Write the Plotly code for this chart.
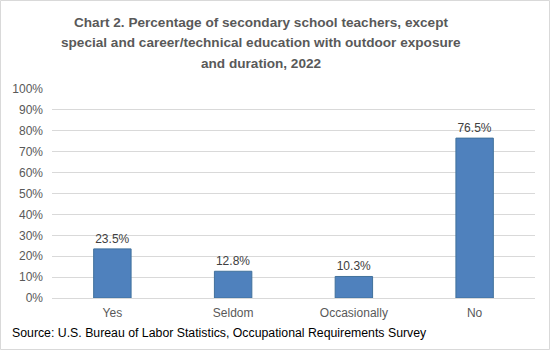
import plotly.graph_objects as go

categories = ["Yes", "Seldom", "Occasionally", "No"]
values = [23.5, 12.8, 10.3, 76.5]
labels = ["23.5%", "12.8%", "10.3%", "76.5%"]
tick_vals = [0, 10, 20, 30, 40, 50, 60, 70, 80, 90, 100]
tick_text = [f"{v}%" for v in tick_vals]
title_lines = [
    "Chart 2. Percentage of secondary school teachers, except",
    "special and career/technical education with outdoor exposure",
    "and duration, 2022",
]
source_text = "Source: U.S. Bureau of Labor Statistics, Occupational Requirements Survey"

W, H = 551, 351
L, R, T, B = 52, 16, 89, 53
FONT = "Liberation Sans"
pw, ph = W - L - R, H - T - B


def px_x(x):
    return (x - L) / pw


def px_y(y):
    return (H - B - y) / ph


fig = go.Figure(go.Bar(
    x=categories, y=values, text=labels, textposition="outside",
    textfont=dict(family=FONT, size=12, color="#404040"),
    marker=dict(color="#4F81BD", line=dict(color="#41719C", width=1)),
    cliponaxis=False,
))

fig.update_layout(
    width=W, height=H,
    margin=dict(l=L, r=R, t=T, b=B),
    paper_bgcolor="white", plot_bgcolor="white",
    bargap=0.69,
    showlegend=False,
    xaxis=dict(
        showgrid=False, showline=False, ticks="", ticklabelstandoff=6,
        tickfont=dict(family=FONT, size=12, color="#595959"),
    ),
    yaxis=dict(
        range=[0, 100], tickvals=tick_vals, ticktext=tick_text,
        showgrid=True, gridcolor="#D9D9D9", gridwidth=1,
        zeroline=True, zerolinecolor="#D9D9D9", zerolinewidth=1,
        showline=False, ticks="", ticklabelstandoff=8,
        tickfont=dict(family=FONT, size=12, color="#595959"),
    ),
)

for i, line in enumerate(title_lines):
    fig.add_annotation(
        text=f"<b>{line}</b>", xref="paper", yref="paper",
        x=px_x(261), y=px_y(22 + 21 * i),
        xanchor="center", yanchor="middle", showarrow=False,
        font=dict(family=FONT, size=13.6, color="#595959"),
    )

fig.add_annotation(
    text=source_text,
    xref="paper", yref="paper",
    x=px_x(10), y=px_y(333),
    xanchor="left", yanchor="middle", showarrow=False,
    font=dict(family=FONT, size=12.3, color="#000000"),
)

fig.add_shape(
    type="rect", xref="paper", yref="paper",
    x0=px_x(0.5), x1=px_x(W - 1.5),
    y0=px_y(H - 1.5), y1=px_y(0.5),
    line=dict(color="#D9D9D9", width=1), fillcolor="rgba(0,0,0,0)", layer="below",
)

fig.write_html("out.html")
